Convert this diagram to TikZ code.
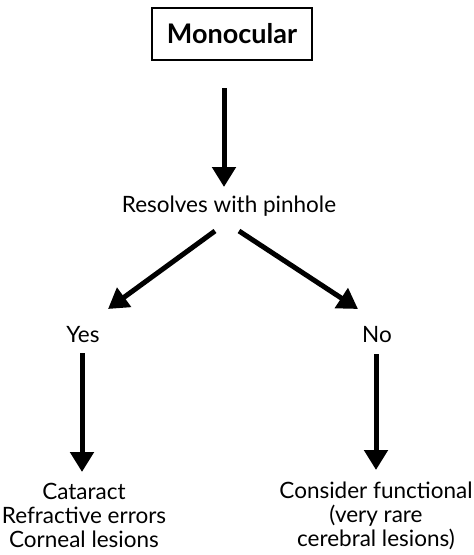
\documentclass[tikz,border=0pt]{standalone}
\usepackage{fontspec}
\setmainfont{Lato}
\usetikzlibrary{arrows.meta}
\begin{document}
\begin{tikzpicture}[x=1pt,y=-1pt,
  lbl/.style={font=\fontsize{22.5}{24}\selectfont, align=center, inner sep=0pt},
  arr/.style={line width=5pt, -{Triangle[length=20pt,width=23pt]}},
  box/.style={draw, line width=1.6pt, minimum width=160pt, minimum height=52pt, font=\fontsize{27}{30}\selectfont\bfseries}]
\useasboundingbox (0,0) rectangle (474,555);
\node[box] (mono) at (232,34) {Monocular};
\node[lbl, anchor=base] (res) at (229,212) {Resolves with pinhole};
\node[lbl, anchor=base] (yes) at (83,342) {Yes};
\node[lbl, anchor=base] (no) at (377,342) {No};
\node[lbl, anchor=north] (left) at (84,483) {Cataract\\Refractive errors\\Corneal lesions};
\node[lbl, anchor=north] (right) at (376,482) {Consider functional\\(very rare\\cerebral lesions)};
\coordinate (a1s) at (224,88);
\coordinate (a1e) at (224,187);
\coordinate (a2s) at (215,231);
\coordinate (a2e) at (108,309);
\coordinate (a3s) at (239,231);
\coordinate (a3e) at (358,309);
\coordinate (a4s) at (82,353);
\coordinate (a4e) at (82,472);
\coordinate (a5s) at (376,354);
\coordinate (a5e) at (376,470);
\draw[arr] (a1s) -- (a1e);
\draw[arr] (a2s) -- (a2e);
\draw[arr] (a3s) -- (a3e);
\draw[arr] (a4s) -- (a4e);
\draw[arr] (a5s) -- (a5e);
\end{tikzpicture}
\end{document}
